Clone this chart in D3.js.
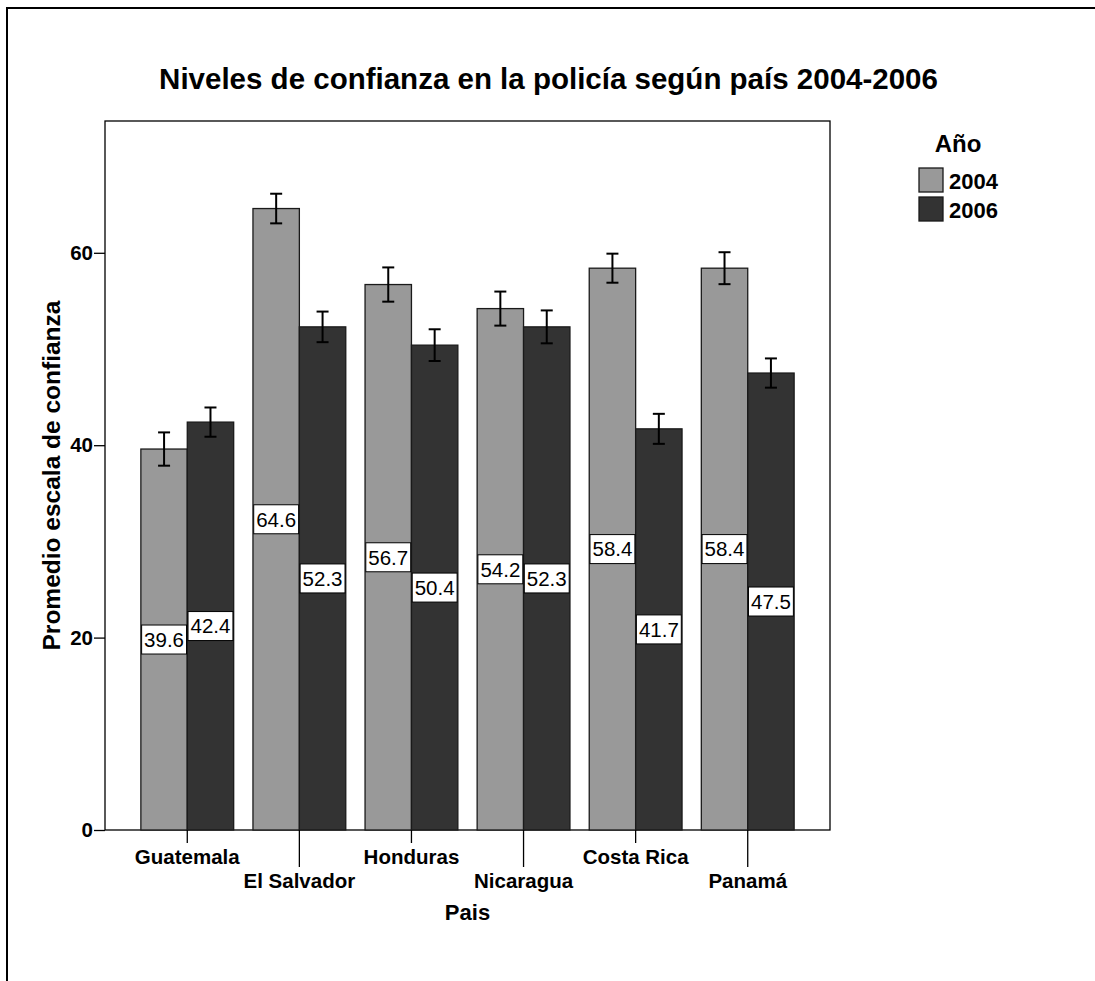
<!DOCTYPE html>
<html>
<head>
<meta charset="utf-8">
<script src="https://cdn.jsdelivr.net/npm/d3@7"></script>
<style>
  html, body { margin: 0; padding: 0; background: #fff; overflow: hidden; }
  svg { display: block; font-family: "Liberation Sans", Arial, sans-serif; overflow: hidden; }
</style>
</head>
<body>
<svg id="chart" width="1095" height="981"></svg>
<script>
const countries = ["Guatemala", "El Salvador", "Honduras", "Nicaragua", "Costa Rica", "Panamá"];
const years = ["2004", "2006"];
const values2004 = [39.6, 64.6, 56.7, 54.2, 58.4, 58.4];
const values2006 = [42.4, 52.3, 50.4, 52.3, 41.7, 47.5];
const err2004 = [1.73, 1.54, 1.78, 1.77, 1.51, 1.66];
const err2006 = [1.52, 1.59, 1.65, 1.71, 1.56, 1.52];
const yTicks = [0, 20, 40, 60];
const colors = ["#999999", "#333333"];

const svg = d3.select("#chart");
const W = 1095, H = 981;
const plot = { left: 105, right: 830, top: 121, bottom: 830 };

const data = countries.map((c, i) => ({
  country: c,
  series: [
    { year: years[0], value: values2004[i], err: err2004[i] },
    { year: years[1], value: values2006[i], err: err2006[i] }
  ]
}));

// outer frame: left and top edges only visible (rest falls outside the view)
svg.append("path")
  .attr("d", `M7,${H + 10} L7,8 L${W + 10},8`)
  .attr("fill", "none").attr("stroke", "#000").attr("stroke-width", 2);

const x0 = d3.scaleBand().domain(countries).range([plot.left, plot.right])
  .paddingInner(0.172).paddingOuter(0.32);
const x1 = d3.scaleBand().domain(years).range([0, x0.bandwidth()]).padding(0);
const y = d3.scaleLinear().domain([0, 73.7]).range([plot.bottom, plot.top]);
const color = d3.scaleOrdinal().domain(years).range(colors);

// title
svg.append("text").attr("x", 548.5).attr("y", 89).attr("text-anchor", "middle")
  .attr("font-weight", "bold").attr("font-size", 29.5)
  .text("Niveles de confianza en la policía según país 2004-2006");

// plot frame
svg.append("rect").attr("x", plot.left).attr("y", plot.top)
  .attr("width", plot.right - plot.left).attr("height", plot.bottom - plot.top)
  .attr("fill", "#fff").attr("stroke", "#000").attr("stroke-width", 1.3);

// bars
const groups = svg.append("g").selectAll("g").data(data).join("g")
  .attr("transform", d => `translate(${x0(d.country)},0)`);

groups.selectAll("rect").data(d => d.series).join("rect")
  .attr("x", d => x1(d.year))
  .attr("y", d => y(d.value))
  .attr("width", x1.bandwidth())
  .attr("height", d => y(0) - y(d.value))
  .attr("fill", d => color(d.year))
  .attr("stroke", "#1a1a1a").attr("stroke-width", 1.3);

// error bars
const eb = groups.selectAll("g.err").data(d => d.series).join("g").attr("class", "err")
  .attr("transform", d => `translate(${x1(d.year) + x1.bandwidth() / 2},0)`);
eb.append("line").attr("x1", 0).attr("x2", 0)
  .attr("y1", d => y(d.value + d.err)).attr("y2", d => y(d.value - d.err))
  .attr("stroke", "#000").attr("stroke-width", 2);
eb.append("line").attr("x1", -6).attr("x2", 6)
  .attr("y1", d => y(d.value + d.err)).attr("y2", d => y(d.value + d.err))
  .attr("stroke", "#000").attr("stroke-width", 2);
eb.append("line").attr("x1", -6).attr("x2", 6)
  .attr("y1", d => y(d.value - d.err)).attr("y2", d => y(d.value - d.err))
  .attr("stroke", "#000").attr("stroke-width", 2);

// value labels
const lab = groups.selectAll("g.lab").data(d => d.series).join("g").attr("class", "lab")
  .attr("transform", d => `translate(${x1(d.year) + x1.bandwidth() / 2},${y(d.value / 2)})`);
lab.append("rect").attr("fill", "#fff").attr("stroke", "#000").attr("stroke-width", 1);
const labText = lab.append("text").attr("text-anchor", "middle").attr("dy", "0.36em")
  .attr("font-size", 20.5).text(d => d.value.toFixed(1));
labText.each(function () {
  const bb = this.getBBox();
  d3.select(this.parentNode).select("rect")
    .attr("x", -bb.width / 2 - 2.5).attr("y", -14.5)
    .attr("width", bb.width + 5).attr("height", 29);
});

// y axis
const yAxis = d3.axisLeft(y).tickValues(yTicks).tickSize(11).tickPadding(1).tickFormat(d3.format("d"));
const yg = svg.append("g").attr("transform", `translate(${plot.left},0)`).call(yAxis);
yg.select(".domain").remove();
yg.selectAll(".tick line").attr("stroke", "#000").attr("stroke-width", 1.3);
yg.selectAll(".tick text").attr("font-size", 20.5).attr("font-weight", "bold")
  .attr("font-family", "'Liberation Sans', Arial, sans-serif").attr("fill", "#000");

// x axis (staggered labels)
const xg = svg.append("g").selectAll("g").data(countries).join("g")
  .attr("transform", d => `translate(${x0(d) + x0.bandwidth() / 2},${plot.bottom})`);
xg.append("line").attr("x1", 0).attr("x2", 0).attr("y1", 0)
  .attr("y2", (d, i) => i % 2 === 0 ? 13 : 37)
  .attr("stroke", "#000").attr("stroke-width", 1.3);
xg.append("text").attr("text-anchor", "middle")
  .attr("y", (d, i) => i % 2 === 0 ? 34 : 58)
  .attr("font-size", 20.5).attr("font-weight", "bold").text(d => d);

// axis titles
svg.append("text").attr("x", (plot.left + plot.right) / 2).attr("y", 920)
  .attr("text-anchor", "middle").attr("font-size", 22).attr("font-weight", "bold").text("Pais");
svg.append("text").attr("transform", `translate(60,${(plot.top + plot.bottom) / 2}) rotate(-90)`)
  .attr("text-anchor", "middle").attr("font-size", 24.5).attr("font-weight", "bold")
  .text("Promedio escala de confianza");

// legend
const legend = svg.append("g");
legend.append("text").attr("x", 958).attr("y", 152).attr("text-anchor", "middle")
  .attr("font-size", 24).attr("font-weight", "bold").text("Año");
const li = legend.selectAll("g").data(years).join("g")
  .attr("transform", (d, i) => `translate(919,${168 + i * 29})`);
li.append("rect").attr("width", 24).attr("height", 24)
  .attr("fill", d => color(d)).attr("stroke", "#1a1a1a").attr("stroke-width", 1.3);
li.append("text").attr("x", 30).attr("y", 21).attr("font-size", 22).attr("font-weight", "bold")
  .text(d => d);
</script>
</body>
</html>
